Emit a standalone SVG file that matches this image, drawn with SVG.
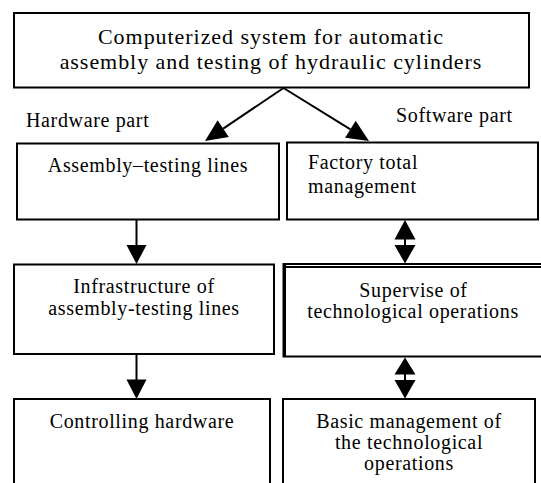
<svg xmlns="http://www.w3.org/2000/svg" width="541" height="483" viewBox="0 0 541 483">
<style>
  .box { fill: #ffffff; stroke: #000000; stroke-width: 2; }
  .ln { fill: none; stroke: #000000; stroke-width: 2; }
  .head { fill: #000000; stroke: none; }
  .t { font-family: "Liberation Serif", "Times New Roman", serif; font-size: 20px; letter-spacing: 0.65px; fill: #000000; }
  .tt { font-family: "Liberation Serif", "Times New Roman", serif; font-size: 22px; letter-spacing: 0.95px; fill: #000000; }
  .c { text-anchor: middle; }
</style>
<rect x="0" y="0" width="541" height="483" fill="#ffffff"/>

<g id="connectors">
  <!-- top to hardware / software -->
  <line class="ln" x1="283.5" y1="88" x2="223.2" y2="128.6"/>
  <polygon class="head" points="205,141 228.8,136.9 217.6,120.3"/>
  <line class="ln" x1="283.5" y1="88" x2="350.4" y2="129.3"/>
  <polygon class="head" points="369,141 345.1,137.8 355.7,120.8"/>
  <!-- A -> C -->
  <line class="ln" x1="136.5" y1="219" x2="136.5" y2="246"/>
  <polygon class="head" points="126.5,245 146.5,245 136.5,264"/>
  <!-- C -> E -->
  <line class="ln" x1="136.5" y1="354" x2="136.5" y2="380"/>
  <polygon class="head" points="126.5,379.5 146.5,379.5 136.5,399"/>
  <!-- B <-> D -->
  <polygon class="head" points="405,220 394.5,239.5 415.5,239.5"/>
  <line class="ln" x1="405" y1="239" x2="405" y2="246"/>
  <polygon class="head" points="394.5,245 415.5,245 405,263.5"/>
  <!-- D <-> F -->
  <polygon class="head" points="405,357.5 394.5,374.5 415.5,374.5"/>
  <line class="ln" x1="405" y1="374" x2="405" y2="381"/>
  <polygon class="head" points="394.5,380 415.5,380 405,398.5"/>
</g>

<g id="node-system">
  <rect class="box" x="14" y="13" width="515" height="74.5"/>
  <text class="tt c" x="271" y="43.5">Computerized system for automatic</text>
  <text class="tt c" x="271" y="68.5">assembly and testing of hydraulic cylinders</text>
</g>

<g id="labels">
  <text class="t" x="26" y="127">Hardware part</text>
  <text class="t" x="396" y="122">Software part</text>
</g>

<g id="node-assembly-lines">
  <rect class="box" x="17" y="143.5" width="262" height="76"/>
  <text class="t c" x="148" y="172">Assembly–testing lines</text>
</g>

<g id="node-factory-management">
  <rect class="box" x="287" y="142.5" width="251" height="77"/>
  <text class="t" x="308" y="169">Factory total</text>
  <text class="t" x="308" y="192.5">management</text>
</g>

<g id="node-infrastructure">
  <rect class="box" x="14" y="264.5" width="260" height="89.5"/>
  <text class="t c" x="144" y="293">Infrastructure of</text>
  <text class="t c" x="144" y="314.5">assembly-testing lines</text>
</g>

<g id="node-supervise">
  <rect class="box" x="283.5" y="264" width="262" height="92.5"/>
  <line class="ln" x1="285" y1="267" x2="545" y2="267" stroke-width="1.5"/>
  <line class="ln" x1="285" y1="264" x2="285" y2="356.5" stroke-width="1.5"/>
  <text class="t c" x="413.5" y="296.5">Supervise of</text>
  <text class="t c" x="413" y="317.5">technological operations</text>
</g>

<g id="node-controlling-hardware">
  <rect class="box" x="14" y="399" width="256" height="100"/>
  <text class="t c" x="142" y="427.5">Controlling hardware</text>
</g>

<g id="node-basic-management">
  <rect class="box" x="283" y="399" width="252" height="100"/>
  <text class="t c" x="409" y="427.5">Basic management of</text>
  <text class="t c" x="409" y="449">the technological</text>
  <text class="t c" x="409" y="470">operations</text>
</g>
</svg>
